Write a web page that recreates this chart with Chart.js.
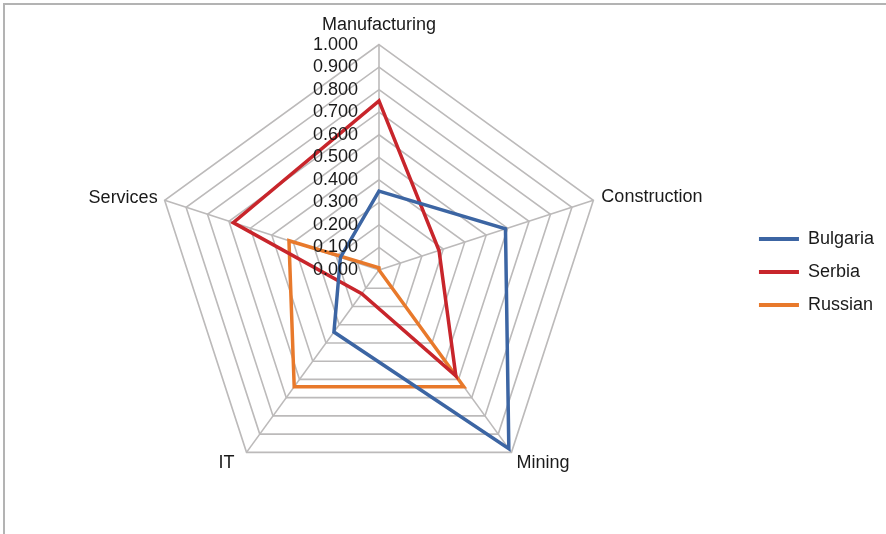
<!DOCTYPE html>
<html>
<head>
<meta charset="utf-8">
<script src="https://cdn.jsdelivr.net/npm/chart.js@4.4.1/dist/chart.umd.min.js"></script>
<style>
  html, body { margin: 0; padding: 0; background: #fff; }
  #frame { position: absolute; left: 3px; top: 3px; width: 883px; height: 531px; border-top: 2px solid #b3b3b3; border-left: 2px solid #b3b3b3; }
  #chartRadar { position: absolute; left: 0; top: 0; }
</style>
</head>
<body>
<div id="frame"></div>
<canvas id="chartRadar" width="886" height="534"></canvas>
<script>
const sectors = ["Manufacturing", "Construction", "Mining", "IT", "Services"];
const valuesBulgaria = [0.35, 0.59, 0.98, 0.34, 0.18];
const valuesSerbia = [0.75, 0.28, 0.58, 0.13, 0.68];
const valuesRussian = [0.01, 0.0, 0.64, 0.64, 0.42];
const tickValues = [0, 0.1, 0.2, 0.3, 0.4, 0.5, 0.6, 0.7, 0.8, 0.9, 1.0];

const fontFamily = "'Liberation Sans', Arial, sans-serif";
const textColor = "#1a1a1a";
const gridColor = "#bcbaba";

// axis numbers sit just left of the vertical spoke, and the sector names
// hug the outer corners (side ones centred on the corner height)
const radarText = {
  id: "radarText",
  afterDatasetsDraw(chart) {
    const scale = chart.scales.r;
    const ctx = chart.ctx;
    ctx.save();
    ctx.font = "18px " + fontFamily;
    ctx.fillStyle = textColor;
    ctx.textBaseline = "middle";

    ctx.textAlign = "right";
    tickValues.forEach((v) => {
      const y = scale.yCenter - scale.getDistanceFromCenterForValue(v);
      ctx.fillText(v.toFixed(3), scale.xCenter - 21, y);
    });

    const place = [
      { align: "center", dx: 0, dy: -20 },
      { align: "left", dx: 8, dy: -3 },
      { align: "left", dx: 5, dy: 11 },
      { align: "right", dx: -12, dy: 11 },
      { align: "right", dx: -7, dy: -2 },
    ];
    sectors.forEach((name, i) => {
      const p = scale.getPointPosition(i, scale.drawingArea);
      ctx.textAlign = place[i].align;
      ctx.fillText(name, p.x + place[i].dx, p.y + place[i].dy);
    });
    ctx.restore();
  },
};

function makeSeries(label, data, color) {
  return {
    label: label,
    data: data,
    borderColor: color,
    backgroundColor: color,
    borderWidth: 3.5,
    fill: false,
    pointRadius: 0,
    pointHoverRadius: 0,
    tension: 0,
  };
}

new Chart(document.getElementById("chartRadar"), {
  type: "radar",
  plugins: [radarText],
  data: {
    labels: sectors,
    datasets: [
      makeSeries("Bulgaria", valuesBulgaria, "#3c65a3"),
      makeSeries("Serbia", valuesSerbia, "#c8252b"),
      makeSeries("Russian", valuesRussian, "#e8792b"),
    ],
  },
  options: {
    responsive: false,
    animation: false,
    layout: {
      padding: { top: 4, left: 16, right: 2, bottom: 24 },
    },
    scales: {
      r: {
        min: 0,
        max: 1,
        ticks: { stepSize: 0.1, display: false },
        grid: { color: gridColor, lineWidth: 1.6 },
        angleLines: { color: gridColor, lineWidth: 1.6 },
        // kept for layout spacing, painted by radarText instead
        pointLabels: {
          font: { size: 18, family: fontFamily },
          color: "rgba(0,0,0,0)",
          padding: 6,
        },
      },
    },
    plugins: {
      tooltip: { enabled: false },
      legend: {
        position: "right",
        // empty title only pushes the key a little lower
        title: {
          display: true,
          text: " ",
          font: { size: 10 },
          padding: { top: 18, bottom: 0 },
        },
        labels: {
          boxWidth: 40,
          boxHeight: 4,
          padding: 15,
          color: textColor,
          font: { size: 18, family: fontFamily },
          generateLabels: function (chart) {
            const items = Chart.defaults.plugins.legend.labels.generateLabels(chart);
            items.forEach((item) => {
              item.lineWidth = 0;
              item.fillStyle = item.strokeStyle;
            });
            return items;
          },
        },
      },
    },
  },
});
</script>
</body>
</html>
